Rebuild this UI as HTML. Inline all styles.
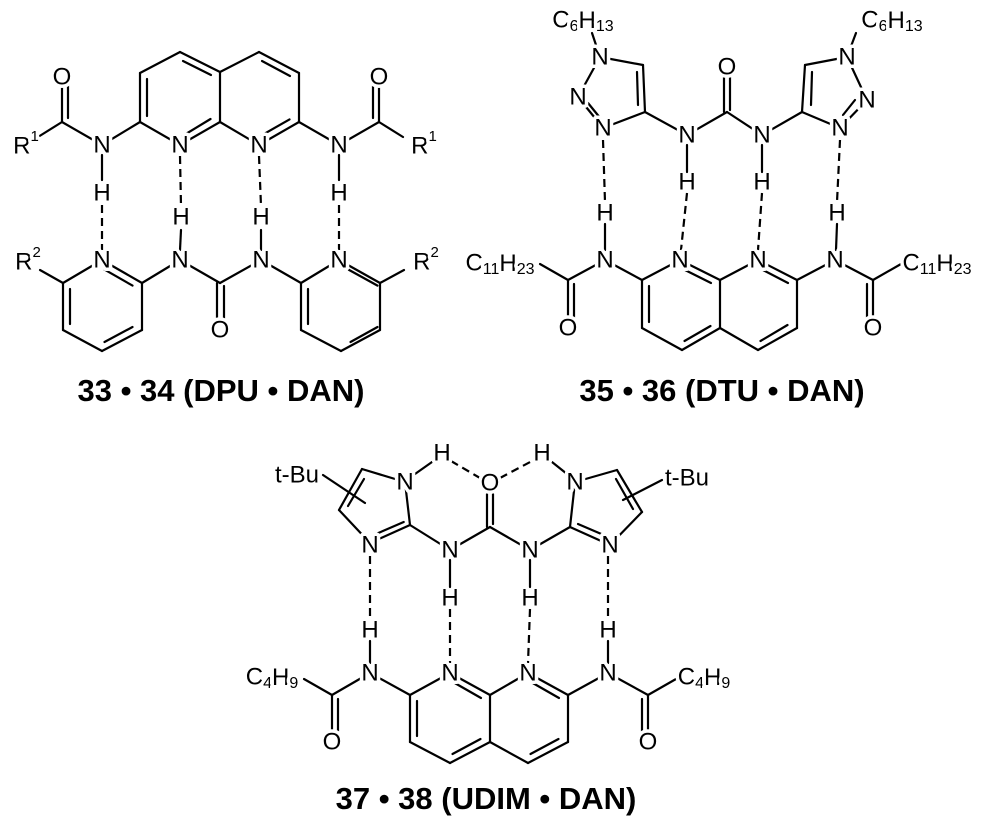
<!DOCTYPE html>
<html><head><meta charset="utf-8"><style>
html,body{margin:0;padding:0;background:#fff;}
svg{display:block;}
.b{stroke:#000;stroke-width:2.2;fill:none;stroke-linecap:round;}
.d{stroke:#000;stroke-width:2.2;fill:none;stroke-dasharray:8,5;}
text{font-family:"Liberation Sans",Arial,sans-serif;fill:#000;}
.a{font-size:24px;text-anchor:middle;dominant-baseline:central;stroke:#fff;stroke-width:7px;paint-order:stroke;stroke-linejoin:round;}
.t{font-size:31px;font-weight:bold;text-anchor:middle;}
</style></head><body>
<svg width="1000" height="830" viewBox="0 0 1000 830" xmlns="http://www.w3.org/2000/svg">
<!-- ===== Structure 1 ===== -->
<g class="b">
<line x1="180" y1="52" x2="140" y2="73"/><line x1="140" y1="73" x2="140" y2="122"/><line x1="147" y1="79" x2="147" y2="116"/>
<line x1="140" y1="122" x2="180" y2="145"/><line x1="180" y1="145" x2="220" y2="122"/><line x1="182.5" y1="136" x2="210.5" y2="119"/>
<line x1="220" y1="122" x2="220" y2="72"/><line x1="220" y1="72" x2="180" y2="52"/><line x1="211" y1="75" x2="183" y2="61"/>
<line x1="220" y1="72" x2="259" y2="52"/><line x1="259" y1="52" x2="299" y2="73"/><line x1="262" y1="61" x2="290" y2="76"/>
<line x1="299" y1="73" x2="299" y2="122"/><line x1="299" y1="122" x2="259" y2="145"/><line x1="289.5" y1="119.4" x2="261.5" y2="135.4"/>
<line x1="259" y1="145" x2="220" y2="122"/>
<line x1="140" y1="122" x2="102" y2="145"/><line x1="102" y1="145" x2="62" y2="122"/>
<line x1="62" y1="122" x2="62" y2="84"/><line x1="68" y1="118" x2="68" y2="84"/><line x1="62" y1="122" x2="38" y2="137"/>
<line x1="299" y1="122" x2="339" y2="145"/><line x1="339" y1="145" x2="379" y2="122"/>
<line x1="379" y1="122" x2="379" y2="84"/><line x1="373" y1="118" x2="373" y2="84"/><line x1="379" y1="122" x2="403" y2="137"/>
<line x1="102" y1="155" x2="102" y2="180"/><line x1="339" y1="155" x2="339" y2="180"/>
<line x1="181" y1="230" x2="180" y2="250"/><line x1="261" y1="230" x2="261" y2="250"/>
<line x1="102" y1="260" x2="63" y2="283"/><line x1="63" y1="283" x2="63" y2="330"/><line x1="70" y1="289" x2="70" y2="324"/>
<line x1="63" y1="330" x2="102" y2="351"/><line x1="102" y1="351" x2="142" y2="330"/><line x1="104.5" y1="342" x2="132.5" y2="327"/>
<line x1="142" y1="330" x2="142" y2="283"/><line x1="142" y1="283" x2="102" y2="260"/><line x1="104.5" y1="269.6" x2="132.5" y2="285.6"/>
<line x1="63" y1="283" x2="40" y2="270"/>
<line x1="142" y1="283" x2="180" y2="260"/><line x1="180" y1="260" x2="220" y2="283"/><line x1="220" y1="283" x2="261" y2="260"/>
<line x1="217" y1="283" x2="217" y2="320"/><line x1="224" y1="286" x2="224" y2="320"/>
<line x1="261" y1="260" x2="301" y2="283"/>
<line x1="301" y1="283" x2="339" y2="260"/><line x1="339" y1="260" x2="380" y2="283"/><line x1="348.5" y1="269.6" x2="377.5" y2="285.6"/>
<line x1="380" y1="283" x2="380" y2="330"/><line x1="380" y1="330" x2="341" y2="351"/><line x1="350.5" y1="342" x2="377.5" y2="327"/>
<line x1="341" y1="351" x2="301" y2="330"/><line x1="301" y1="330" x2="301" y2="283"/><line x1="308" y1="289" x2="308" y2="324"/>
<line x1="380" y1="283" x2="404" y2="270"/>
</g>
<g class="d">
<line x1="102" y1="205" x2="102" y2="250"/><line x1="339" y1="205" x2="339" y2="250"/>
<line x1="180" y1="156" x2="181" y2="206"/><line x1="259" y1="156" x2="261" y2="206"/>
</g>
<text class="a" x="62" y="77">O</text><text class="a" x="379" y="77">O</text>
<text class="a" x="102" y="145">N</text><text class="a" x="180" y="145">N</text><text class="a" x="259" y="145">N</text><text class="a" x="339" y="145">N</text>
<text class="a" x="102" y="193">H</text><text class="a" x="339" y="193">H</text>
<text class="a" x="181" y="217">H</text><text class="a" x="261" y="217">H</text>
<text class="a" x="102" y="260">N</text><text class="a" x="180" y="260">N</text><text class="a" x="261" y="260">N</text><text class="a" x="339" y="260">N</text>
<text class="a" x="220" y="330">O</text>
<text class="a" x="26" y="146">R<tspan font-size="15" dy="-10">1</tspan></text>
<text class="a" x="424" y="146">R<tspan font-size="15" dy="-10">1</tspan></text>
<text class="a" x="28" y="262">R<tspan font-size="15" dy="-10">2</tspan></text>
<text class="a" x="426" y="262">R<tspan font-size="15" dy="-10">2</tspan></text>
<text class="t" x="221" y="401">33 • 34 (DPU • DAN)</text>

<!-- ===== Structure 2 ===== -->
<g class="b">
<line x1="600" y1="57" x2="643" y2="65"/><line x1="643" y1="65" x2="645" y2="112"/><line x1="637" y1="72" x2="638" y2="105"/>
<line x1="645" y1="112" x2="603" y2="128"/><line x1="603" y1="128" x2="578" y2="97"/><line x1="588" y1="103" x2="601" y2="119"/>
<line x1="578" y1="97" x2="600" y2="57"/><line x1="600" y1="57" x2="592" y2="33"/>
<line x1="645" y1="112" x2="687" y2="135"/><line x1="687" y1="135" x2="727" y2="112"/><line x1="727" y1="112" x2="762" y2="135"/>
<line x1="724" y1="112" x2="724" y2="75"/><line x1="730" y1="110" x2="730" y2="75"/>
<line x1="762" y1="135" x2="802" y2="112"/>
<line x1="802" y1="112" x2="805" y2="65"/><line x1="811" y1="105" x2="812" y2="72"/><line x1="805" y1="65" x2="847" y2="57"/>
<line x1="847" y1="57" x2="867" y2="100"/><line x1="867" y1="100" x2="840" y2="128"/><line x1="855" y1="100" x2="843" y2="115"/>
<line x1="840" y1="128" x2="802" y2="112"/><line x1="847" y1="57" x2="856" y2="33"/>
<line x1="687" y1="145" x2="687" y2="172"/><line x1="762" y1="145" x2="762" y2="172"/>
<line x1="605" y1="224" x2="605" y2="250"/><line x1="837" y1="224" x2="836" y2="250"/>
<line x1="605" y1="260" x2="568" y2="280"/><line x1="568" y1="280" x2="568" y2="320"/><line x1="574" y1="284" x2="574" y2="320"/>
<line x1="568" y1="280" x2="540" y2="264"/>
<line x1="605" y1="260" x2="642" y2="280"/>
<line x1="642" y1="280" x2="642" y2="328"/><line x1="649" y1="286" x2="649" y2="322"/>
<line x1="642" y1="328" x2="682" y2="350"/><line x1="682" y1="350" x2="720" y2="328"/><line x1="684.5" y1="341" x2="710.5" y2="326"/>
<line x1="720" y1="328" x2="720" y2="280"/><line x1="720" y1="280" x2="680" y2="260"/><line x1="683" y1="269" x2="711" y2="283"/>
<line x1="680" y1="260" x2="642" y2="280"/>
<line x1="720" y1="280" x2="758" y2="260"/><line x1="758" y1="260" x2="797" y2="280"/><line x1="761" y1="269" x2="788" y2="283"/>
<line x1="797" y1="280" x2="797" y2="328"/><line x1="797" y1="328" x2="758" y2="350"/><line x1="787.5" y1="325" x2="760.5" y2="341"/>
<line x1="758" y1="350" x2="720" y2="328"/>
<line x1="797" y1="280" x2="835" y2="260"/><line x1="835" y1="260" x2="873" y2="280"/>
<line x1="873" y1="280" x2="873" y2="320"/><line x1="867" y1="284" x2="867" y2="320"/><line x1="873" y1="280" x2="901" y2="264"/>
</g>
<g class="d">
<line x1="603" y1="140" x2="605" y2="202"/><line x1="840" y1="140" x2="837" y2="202"/>
<line x1="687" y1="193" x2="681" y2="250"/><line x1="762" y1="193" x2="758" y2="250"/>
</g>
<text class="a" x="583" y="20">C<tspan font-size="16" dy="6">6</tspan><tspan dy="-6">H</tspan><tspan font-size="16" dy="6">13</tspan></text>
<text class="a" x="892" y="20">C<tspan font-size="16" dy="6">6</tspan><tspan dy="-6">H</tspan><tspan font-size="16" dy="6">13</tspan></text>
<text class="a" x="600" y="57">N</text><text class="a" x="578" y="97">N</text><text class="a" x="603" y="128">N</text>
<text class="a" x="847" y="57">N</text><text class="a" x="867" y="100">N</text><text class="a" x="840" y="128">N</text>
<text class="a" x="727" y="67">O</text>
<text class="a" x="687" y="135">N</text><text class="a" x="762" y="135">N</text>
<text class="a" x="687" y="182">H</text><text class="a" x="762" y="182">H</text>
<text class="a" x="605" y="213">H</text><text class="a" x="837" y="213">H</text>
<text class="a" x="605" y="260">N</text><text class="a" x="680" y="260">N</text><text class="a" x="758" y="260">N</text><text class="a" x="835" y="260">N</text>
<text class="a" x="568" y="328">O</text><text class="a" x="873" y="328">O</text>
<text class="a" x="500" y="263">C<tspan font-size="16" dy="6">11</tspan><tspan dy="-6">H</tspan><tspan font-size="16" dy="6">23</tspan></text>
<text class="a" x="937" y="263">C<tspan font-size="16" dy="6">11</tspan><tspan dy="-6">H</tspan><tspan font-size="16" dy="6">23</tspan></text>
<text class="t" x="722" y="401">35 • 36 (DTU • DAN)</text>

<!-- ===== Structure 3 ===== -->
<g class="b">
<line x1="362" y1="469" x2="405" y2="482"/><line x1="405" y1="482" x2="410" y2="525"/>
<line x1="410" y1="525" x2="370" y2="543"/><line x1="403.7" y1="522" x2="373.7" y2="535"/>
<line x1="370" y1="543" x2="339" y2="510"/><line x1="339" y1="510" x2="362" y2="469"/><line x1="348" y1="506" x2="364" y2="479"/>
<line x1="323" y1="475" x2="365" y2="503"/>
<line x1="415" y1="474" x2="432" y2="462"/>
<line x1="410" y1="525" x2="450" y2="550"/><line x1="450" y1="550" x2="490" y2="527"/><line x1="490" y1="527" x2="530" y2="550"/>
<line x1="487" y1="527" x2="487" y2="494"/><line x1="493" y1="524" x2="493" y2="494"/>
<line x1="530" y1="550" x2="570" y2="527"/>
<line x1="570" y1="527" x2="575" y2="482"/><line x1="575" y1="482" x2="617" y2="470"/>
<line x1="617" y1="470" x2="642" y2="512"/><line x1="616" y1="479" x2="633" y2="509"/>
<line x1="642" y1="512" x2="610" y2="545"/><line x1="610" y1="545" x2="570" y2="527"/><line x1="578" y1="524" x2="606" y2="536"/>
<line x1="623" y1="500" x2="662" y2="480"/>
<line x1="552" y1="462" x2="567" y2="474"/>
<line x1="450" y1="560" x2="450" y2="587"/><line x1="530" y1="560" x2="530" y2="587"/>
<line x1="370" y1="641" x2="370" y2="663"/><line x1="608" y1="641" x2="608" y2="663"/>
<line x1="370" y1="673" x2="332" y2="695"/><line x1="332" y1="695" x2="332" y2="735"/><line x1="338" y1="699" x2="338" y2="735"/>
<line x1="332" y1="695" x2="304" y2="679"/>
<line x1="370" y1="673" x2="410" y2="695"/>
<line x1="410" y1="695" x2="410" y2="742"/><line x1="417" y1="701" x2="417" y2="736"/>
<line x1="410" y1="742" x2="450" y2="763"/><line x1="450" y1="763" x2="490" y2="742"/><line x1="452.5" y1="754" x2="480.5" y2="739"/>
<line x1="490" y1="742" x2="490" y2="695"/><line x1="490" y1="695" x2="450" y2="673"/><line x1="453" y1="682" x2="481" y2="698"/>
<line x1="450" y1="673" x2="410" y2="695"/>
<line x1="490" y1="695" x2="528" y2="673"/><line x1="528" y1="673" x2="568" y2="695"/><line x1="531" y1="682" x2="559" y2="698"/>
<line x1="568" y1="695" x2="568" y2="742"/><line x1="568" y1="742" x2="528" y2="763"/><line x1="558.5" y1="739" x2="530.5" y2="754"/>
<line x1="528" y1="763" x2="490" y2="742"/>
<line x1="568" y1="695" x2="608" y2="673"/><line x1="608" y1="673" x2="648" y2="695"/>
<line x1="648" y1="695" x2="648" y2="735"/><line x1="642" y1="699" x2="642" y2="735"/><line x1="648" y1="695" x2="676" y2="679"/>
</g>
<g class="d">
<line x1="451" y1="461" x2="480" y2="478"/><line x1="500" y1="478" x2="532" y2="461"/>
<line x1="370" y1="556" x2="370" y2="620"/><line x1="608" y1="556" x2="608" y2="620"/>
<line x1="450" y1="609" x2="450" y2="663"/><line x1="530" y1="609" x2="528" y2="663"/>
</g>
<text class="a" x="297" y="475">t-Bu</text><text class="a" x="687" y="478">t-Bu</text>
<text class="a" x="442" y="453">H</text><text class="a" x="542" y="453">H</text>
<text class="a" x="405" y="482">N</text><text class="a" x="490" y="483">O</text><text class="a" x="575" y="482">N</text>
<text class="a" x="370" y="545">N</text><text class="a" x="610" y="545">N</text>
<text class="a" x="450" y="550">N</text><text class="a" x="530" y="550">N</text>
<text class="a" x="450" y="598">H</text><text class="a" x="530" y="598">H</text>
<text class="a" x="370" y="630">H</text><text class="a" x="608" y="630">H</text>
<text class="a" x="370" y="673">N</text><text class="a" x="450" y="673">N</text><text class="a" x="528" y="673">N</text><text class="a" x="608" y="673">N</text>
<text class="a" x="332" y="742">O</text><text class="a" x="648" y="742">O</text>
<text class="a" x="272" y="677">C<tspan font-size="16" dy="6">4</tspan><tspan dy="-6">H</tspan><tspan font-size="16" dy="6">9</tspan></text>
<text class="a" x="704" y="677">C<tspan font-size="16" dy="6">4</tspan><tspan dy="-6">H</tspan><tspan font-size="16" dy="6">9</tspan></text>
<text class="t" x="486" y="809">37 • 38 (UDIM • DAN)</text>
</svg>
</body></html>
